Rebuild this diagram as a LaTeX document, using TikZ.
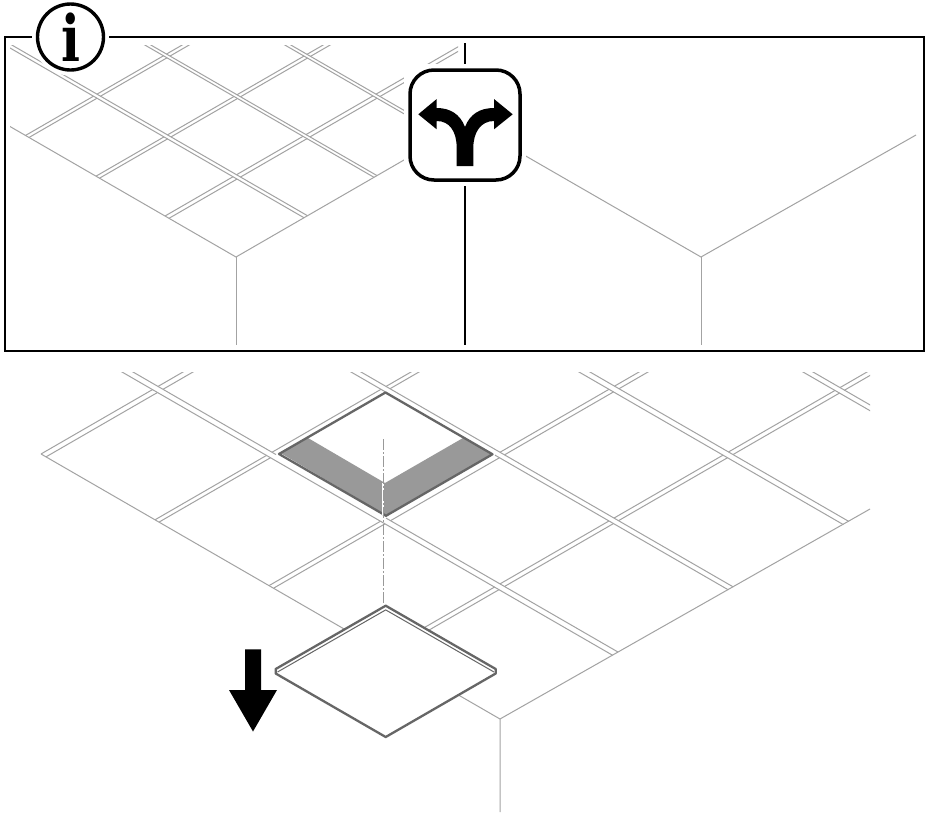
\documentclass[tikz,border=0pt]{standalone}
\usepackage{fontspec}
\newfontfamily\iconserif{DejaVu Serif}[Scale=1]
\newcommand\isopt[2]{({\ox+(#1)-(#2)},{\oy-0.5774*((#1)+(#2))})}
\tikzset{
  gridline/.style={draw=black!36, line width=1pt},
  frameline/.style={draw=black, line width=2pt},
  darkline/.style={draw=black!60, line width=2.3pt, line join=round},
  halo/.style={draw=white, fill=white},
  solidblack/.style={fill=black, draw=none},
  axisline/.style={draw=black!40, line width=1pt, dash pattern=on 11pt off 2pt on 2pt off 2pt},
  iconbox/.style={draw=black, line width=3.5pt, rounded corners=24pt, minimum width=110pt, minimum height=110pt, fill=white, inner sep=0pt},
  infocirc/.style={circle, draw=black, line width=3.4pt, fill=white, minimum size=66pt, inner sep=0pt},
}
\begin{document}
\begin{tikzpicture}[x=1pt,y=-1pt]
\useasboundingbox (0,0) rectangle (927,812);
\fill[white] (0,0) rectangle (927,812);
% ---- upper panel, left grid
\def\ox{236}\def\oy{257}
\begin{scope}
\clip (10,45) rectangle (458,345);
\foreach \aa in {68,71.5,138,141,208,211}{
  \draw[gridline] \isopt{\aa}{0} -- \isopt{\aa}{420};
}
\foreach \aa/\ab in {0/68,71.5/138,141/208,211/420}{
  \foreach \bb in {67,71,136.5,140,207,210.5}{
    \draw[gridline] \isopt{\aa}{\bb} -- \isopt{\ab}{\bb};
  }
}
\draw[gridline] \isopt{0}{420} -- \isopt{0}{0} -- \isopt{420}{0};
\end{scope}
\coordinate (cornerA) at (236,257);
\coordinate (footA) at (236,345);
\draw[gridline] (cornerA) -- (footA);
% ---- upper panel, right corner
\coordinate (cornerB) at (701,257);
\coordinate (footB) at (701,345);
\coordinate (leftB) at (524,155);
\coordinate (rightB) at (916,135);
\draw[gridline] (leftB) -- (cornerB) -- (rightB);
\draw[gridline] (cornerB) -- (footB);
% ---- panel frame and divider
\coordinate (divtop) at (465,43);
\coordinate (divbot) at (465,345);
\draw[frameline] (4.5,37) rectangle (924,351);
\draw[frameline] (divtop) -- (divbot);
% ---- choice icon
\fill[halo] (404.5,64.5) rectangle (525.5,185);
\node[iconbox] (choice) at (465,125) {};
\fill[solidblack] (456.7,166) -- (456.7,148) .. controls (456.7,132) and (450,121) .. (436.7,121)
  -- (436.7,129.3) -- (418.3,114.3) -- (436.7,99) -- (436.7,108)
  .. controls (450,108) and (460,114) .. (465,127)
  .. controls (470,114) and (480,108) .. (494,108)
  -- (494,99) -- (512.7,114.3) -- (494,129.3) -- (494,121)
  .. controls (481,121) and (473.3,132) .. (473.3,148) -- (473.3,166) -- cycle;
% ---- info icon
\fill[white] (70.5,37) circle (38.5pt);
\node[infocirc] (info) at (70.5,37) {};
\node[inner sep=0pt, font={\iconserif\bfseries\fontsize{64}{64}\selectfont}] (infoi) at (70.5,37) {\scalebox{0.78}[1]{i}};
% ---- lower grid
\def\ox{500}\def\oy{719}
\begin{scope}
\clip (0,372) rectangle (870,812);
\foreach \aa in {111.5,231,340,345.5,452,457}{
  \draw[gridline] \isopt{\aa}{-0.01*\aa} -- \isopt{\aa}{800};
}
\foreach \aa in {117,226}{
  \draw[gridline] \isopt{\aa}{-0.01*\aa} -- \isopt{\aa}{231};
  \draw[gridline] \isopt{\aa}{341} -- \isopt{\aa}{800};
}
\foreach \aa/\ab in {0/111.5,231/340,345.5/452,457/700}{
  \foreach \bb in {112.5,117,226.5,231,341,345,454,459}{
    \draw[gridline] \isopt{\aa}{\bb} -- \isopt{\ab}{\bb};
  }
}
\foreach \bb in {112.5,117,226.5,345,454,459}{
  \draw[gridline] \isopt{117}{\bb} -- \isopt{226}{\bb};
}
\draw[gridline] \isopt{0}{459} -- \isopt{0}{0};
\end{scope}
\coordinate (cornerC) at (500,719);
\coordinate (footC) at (500,812);
\coordinate (rightC) at (870,509);
\draw[gridline] (rightC) -- (cornerC) -- (footC);
% ---- opening
\fill[black!40] (280.5,453) -- (308,438) -- (385,483) -- (463,438) -- (493,454) -- (385.7,515) -- cycle;
\draw[darkline] \isopt{119}{233} -- \isopt{225.5}{233} -- \isopt{225.5}{340} -- \isopt{119}{340} -- cycle;
\coordinate (axistop) at (383.3,439);
\coordinate (axisbot) at (383.3,604);
\draw[white, line width=2pt] (383.3,483) -- (383.3,515);
\draw[axisline] (axistop) -- (axisbot);
% ---- removed panel
\filldraw[fill=white, darkline] (385.7,605.7) -- (495.7,669) -- (495.7,673.5) -- (385.7,737) -- (275.7,673.5) -- (275.7,669) -- cycle;
\draw[draw=black!60, line width=1pt] (277.5,672) -- (385.7,609.9) -- (494,672);
% ---- arrow
\fill[solidblack] (245,649.3) -- (261,649.3) -- (261,690) -- (277,690) -- (253,731.5) -- (229,690) -- (245,690) -- cycle;
\end{tikzpicture}
\end{document}
